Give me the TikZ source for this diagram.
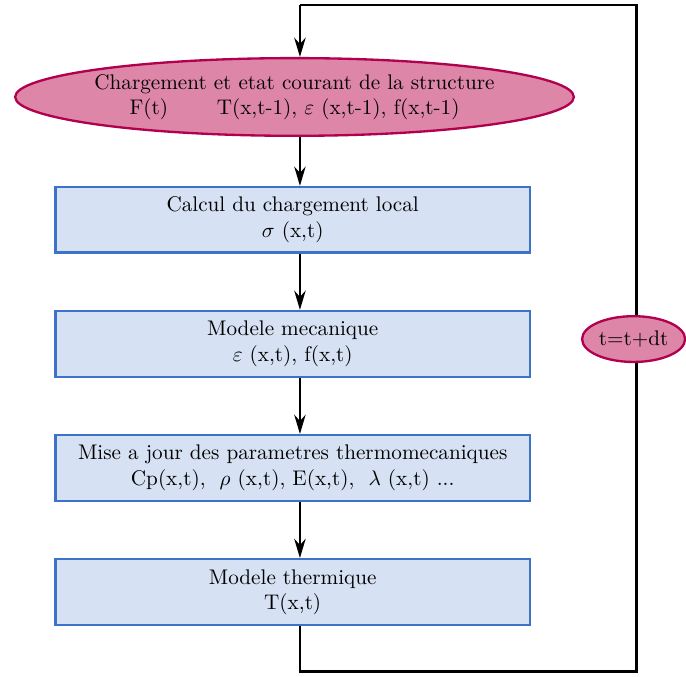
\documentclass[tikz,border=0pt]{standalone}
\usetikzlibrary{arrows.meta,shapes.geometric}
\definecolor{etatfill}{RGB}{222,134,168}
\definecolor{etatline}{RGB}{176,0,78}
\definecolor{calcfill}{RGB}{214,225,243}
\definecolor{calcline}{RGB}{60,115,200}
\tikzset{
  etat/.style={draw=etatline, fill=etatfill, ellipse, line width=1.1pt, inner sep=0pt},
  calc/.style={draw=calcline, fill=calcfill, rectangle, line width=1.1pt, minimum width=7.88cm, minimum height=1.09cm, align=center},
  fleche/.style={line width=1.1pt, -{Stealth[length=3.2mm,width=1.9mm]}},
  trait/.style={line width=1.1pt}
}
\begin{document}
\begin{tikzpicture}
    \useasboundingbox (0,0) rectangle (11.39,-11.24);
    \node[etat, inner xsep=-1.2pt, minimum width=9.16cm, minimum height=1.29cm, align=center] (etat) at (4.89,-1.61)
        {Chargement et etat courant de la structure\\F(t)\hspace{2.3em}T(x,t-1), $\varepsilon$ (x,t-1), f(x,t-1)};
    \node[calc] (charge) at (4.86,-3.65) {Calcul du chargement local\\$\sigma$ (x,t)};
    \node[calc] (meca) at (4.86,-5.71) {Modele mecanique\\$\varepsilon$ (x,t), f(x,t)};
    \node[calc] (param) at (4.86,-7.77) {Mise a jour des parametres thermomecaniques\\Cp(x,t),\ \ $\rho$ (x,t), E(x,t),\ \ $\lambda$ (x,t) ...};
    \node[calc] (therm) at (4.86,-9.83) {Modele thermique\\T(x,t)};
    \coordinate (axe) at (4.98,0);
    \coordinate (haut) at (4.98,-0.08);
    \coordinate (bas) at (4.98,-11.15);
    \coordinate (coinbas) at (10.57,-11.15);
    \coordinate (coinhaut) at (10.57,-0.08);
    % chaine principale
    \draw[fleche] (etat.south -| axe) -- (charge.north -| axe);
    \draw[fleche] (charge.south -| axe) -- (meca.north -| axe);
    \draw[fleche] (meca.south -| axe) -- (param.north -| axe);
    \draw[fleche] (param.south -| axe) -- (therm.north -| axe);
    % boucle en temps
    \draw[trait] (therm.south -| axe) -- (bas) -- (coinbas) -- (coinhaut) -- (haut);
    \draw[fleche] (haut) -- (etat.north -| axe);
    \node[etat, minimum width=1.71cm, minimum height=0.76cm] (pas) at (10.52,-5.63) {t=t+dt};
\end{tikzpicture}
\end{document}
